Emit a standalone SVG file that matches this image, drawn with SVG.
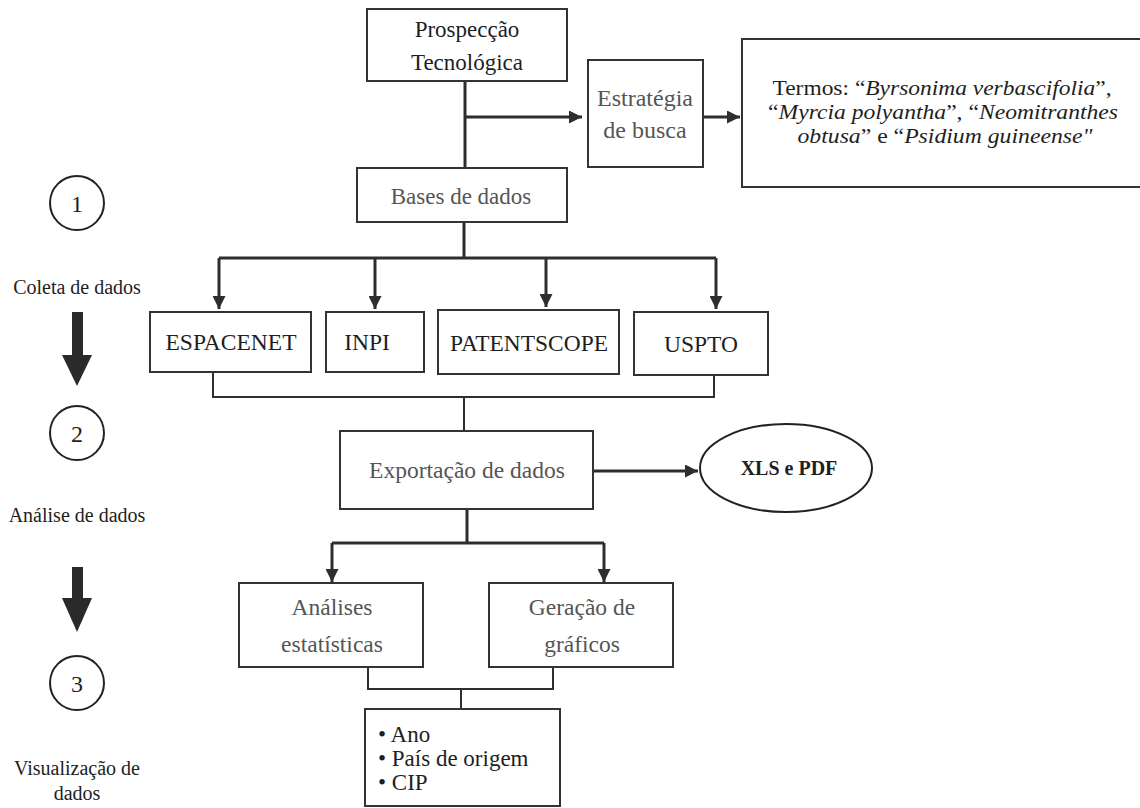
<svg xmlns="http://www.w3.org/2000/svg" width="1140" height="808" viewBox="0 0 1140 808">
<style>
.box{fill:#fff;stroke:#333;stroke-width:2}
.t{font-family:"Liberation Serif","Times New Roman",serif;fill:#1e1e1e;text-anchor:middle}
.s{text-anchor:start}
.g{fill:#555}
.ln{stroke:#2e2e2e;stroke-width:3;fill:none}
.thin{stroke:#2e2e2e;stroke-width:2;fill:none}
.big{fill:#2a2a2a}
</style>
<defs>
<marker id="ah" viewBox="0 0 10 10" refX="10" refY="5" markerWidth="14" markerHeight="13" markerUnits="userSpaceOnUse" orient="auto">
<path d="M0,0 L10,5 L0,10 z" fill="#2e2e2e"/>
</marker>
</defs>
<rect width="1140" height="808" fill="#fff"/>

<g id="steps">
<circle cx="77" cy="203" r="27" fill="none" stroke="#222" stroke-width="2"/>
<text class="t" x="77" y="212" font-size="24">1</text>
<text class="t" x="77" y="294" font-size="20">Coleta de dados</text>
<rect class="big" x="72" y="312" width="11" height="44"/>
<polygon class="big" points="62,355 92,355 77,386"/>
<circle cx="77" cy="433" r="27" fill="none" stroke="#222" stroke-width="2"/>
<text class="t" x="77" y="442" font-size="24">2</text>
<text class="t" x="77" y="522" font-size="20">Análise de dados</text>
<rect class="big" x="72" y="567" width="11" height="32"/>
<polygon class="big" points="62,598 92,598 77,632"/>
<circle cx="77" cy="683" r="27" fill="none" stroke="#222" stroke-width="2"/>
<text class="t" x="77" y="692" font-size="24">3</text>
<text class="t" x="77" y="775" font-size="20">Visualização de</text>
<text class="t" x="77" y="800" font-size="20">dados</text>
</g>

<g id="connectors">
<path class="ln" d="M465,81 V168"/>
<path class="ln" d="M465,117 H582" marker-end="url(#ah)"/>
<path class="ln" d="M703,117 H740" marker-end="url(#ah)"/>
<path class="ln" d="M464,222 V258"/>
<path class="ln" d="M219,258 H716"/>
<path class="ln" d="M219,258 V309" marker-end="url(#ah)"/>
<path class="ln" d="M375,258 V309" marker-end="url(#ah)"/>
<path class="ln" d="M546,258 V307" marker-end="url(#ah)"/>
<path class="ln" d="M716,258 V309" marker-end="url(#ah)"/>
<path class="thin" d="M213,372 V397 H714 V375"/>
<path class="thin" d="M464,397 V431"/>
<path class="ln" d="M593,471 H698" marker-end="url(#ah)"/>
<path class="ln" d="M467,509 V543"/>
<path class="ln" d="M332,543 H604"/>
<path class="ln" d="M332,543 V582" marker-end="url(#ah)"/>
<path class="ln" d="M604,543 V582" marker-end="url(#ah)"/>
<path class="thin" d="M368,667 V689 H553 V667"/>
<path class="thin" d="M461,689 V709"/>
</g>

<g id="prospeccao">
<rect class="box" x="367" y="9" width="200" height="72"/>
<text class="t" x="467" y="37" font-size="23">Prospecção</text>
<text class="t" x="467" y="70" font-size="23">Tecnológica</text>
</g>

<g id="estrategia">
<rect class="box" x="588" y="60" width="115" height="107"/>
<text class="t g" x="645" y="106" font-size="24">Estratégia</text>
<text class="t g" x="645" y="138" font-size="24">de busca</text>
</g>

<g id="termos">
<rect class="box" x="742" y="39" width="410" height="148"/>
<text class="t" x="942" y="95" font-size="21" textLength="339" lengthAdjust="spacingAndGlyphs">Termos: “<tspan font-style="italic">Byrsonima verbascifolia</tspan>”,</text>
<text class="t" x="943" y="119" font-size="21" textLength="350" lengthAdjust="spacingAndGlyphs">“<tspan font-style="italic">Myrcia polyantha</tspan>”, “<tspan font-style="italic">Neomitranthes</tspan></text>
<text class="t" x="945" y="143" font-size="21" textLength="295" lengthAdjust="spacingAndGlyphs"><tspan font-style="italic">obtusa</tspan>” e “<tspan font-style="italic">Psidium guineense"</tspan></text>
</g>

<g id="bases">
<rect class="box" x="357" y="168" width="210" height="54"/>
<text class="t g" x="461" y="204" font-size="23">Bases de dados</text>
</g>

<g id="espacenet">
<rect class="box" x="150" y="312" width="161" height="60"/>
<text class="t" x="231" y="350" font-size="23.5">ESPACENET</text>
</g>
<g id="inpi">
<rect class="box" x="326" y="312" width="98" height="60"/>
<text class="t" x="367" y="350" font-size="23.5">INPI</text>
</g>
<g id="patentscope">
<rect class="box" x="438" y="310" width="181" height="64"/>
<text class="t" x="529" y="351" font-size="23" textLength="158" lengthAdjust="spacingAndGlyphs">PATENTSCOPE</text>
</g>
<g id="uspto">
<rect class="box" x="634" y="312" width="134" height="63"/>
<text class="t" x="701" y="352" font-size="23.5">USPTO</text>
</g>

<g id="exportacao">
<rect class="box" x="340" y="431" width="253" height="78"/>
<text class="t g" x="467" y="478" font-size="23.5">Exportação de dados</text>
</g>

<g id="xls">
<ellipse cx="786" cy="468" rx="86" ry="44" fill="#fff" stroke="#222" stroke-width="2"/>
<text class="t" x="789" y="475" font-size="20" font-weight="bold">XLS e PDF</text>
</g>

<g id="analises">
<rect class="box" x="239" y="583" width="184" height="84"/>
<text class="t g" x="332" y="615" font-size="23.5">Análises</text>
<text class="t g" x="332" y="652" font-size="23.5">estatísticas</text>
</g>

<g id="geracao">
<rect class="box" x="489" y="583" width="184" height="84"/>
<text class="t g" x="582" y="615" font-size="23.5">Geração de</text>
<text class="t g" x="582" y="652" font-size="23.5">gráficos</text>
</g>

<g id="lista">
<rect class="box" x="365" y="709" width="195" height="97"/>
<text class="t s" x="378" y="742" font-size="23">• Ano</text>
<text class="t s" x="378" y="766" font-size="23">• País de origem</text>
<text class="t s" x="378" y="790" font-size="23">• CIP</text>
</g>
</svg>
